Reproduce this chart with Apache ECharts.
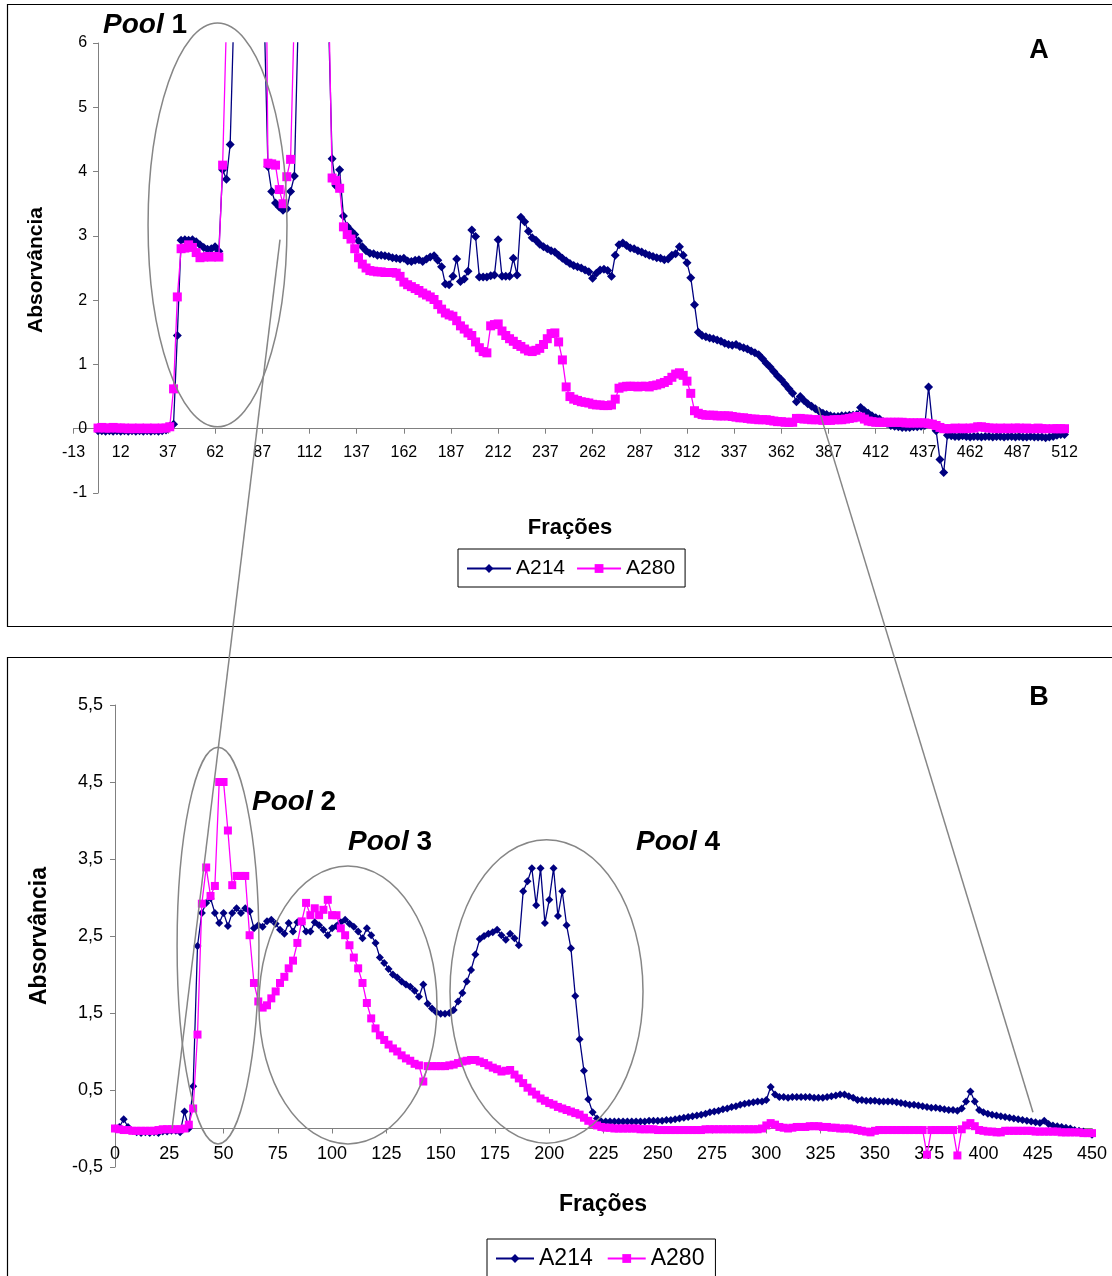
<!DOCTYPE html>
<html>
<head>
<meta charset="utf-8">
<title>Absorvância por fração</title>
<script src="https://cdn.jsdelivr.net/npm/echarts@6/dist/echarts.min.js"></script>
<style>
  html, body { margin: 0; padding: 0; background: #ffffff; }
  #chart { width: 1112px; height: 1276px; }
</style>
</head>
<body>
<div id="chart"></div>
<script>
// Fraction spacing of the readings (one reading every 2 fractions)
const stepA = 2;
const stepB = 2;

// Panel A: absorbance at 214 nm, fractions 0..512
const a214A = [
  -0.03,-0.03,-0.04,-0.03,-0.04,-0.03,-0.04,-0.03,-0.04,-0.03,
  -0.04,-0.03,-0.04,-0.03,-0.04,-0.03,-0.04,-0.03,-0.02,0.04,
  0.07,1.45,2.93,2.94,2.93,2.94,2.91,2.86,2.82,2.79,
  2.80,2.83,2.76,4.03,3.88,4.42,6.5,12,12,12,
  12,12,12,12,6.5,4.08,3.69,3.51,3.45,3.40,
  3.42,3.69,3.93,6.3,12,12,12,12,12,12,
  12,6.5,4.20,3.78,4.03,3.31,3.15,3.08,3.02,2.92,
  2.83,2.77,2.73,2.72,2.70,2.70,2.69,2.68,2.66,2.65,
  2.64,2.65,2.61,2.60,2.62,2.63,2.60,2.64,2.67,2.69,
  2.62,2.52,2.25,2.24,2.37,2.64,2.29,2.33,2.45,3.09,
  2.99,2.36,2.36,2.36,2.38,2.39,2.94,2.37,2.37,2.37,
  2.65,2.39,3.29,3.22,3.07,2.97,2.93,2.87,2.83,2.80,
  2.77,2.75,2.70,2.65,2.61,2.57,2.54,2.52,2.50,2.47,
  2.44,2.34,2.42,2.47,2.48,2.46,2.37,2.70,2.86,2.89,
  2.85,2.81,2.80,2.77,2.75,2.72,2.70,2.68,2.66,2.65,
  2.63,2.64,2.70,2.72,2.83,2.70,2.58,2.35,1.93,1.50,
  1.45,1.43,1.41,1.40,1.38,1.36,1.33,1.31,1.30,1.31,
  1.28,1.26,1.24,1.21,1.18,1.15,1.09,1.02,0.96,0.89,
  0.82,0.76,0.69,0.62,0.55,0.42,0.50,0.44,0.39,0.35,
  0.31,0.27,0.24,0.22,0.20,0.19,0.19,0.20,0.20,0.21,
  0.21,0.22,0.33,0.28,0.24,0.20,0.17,0.15,0.11,0.08,
  0.05,0.04,0.03,0.02,0.02,0.02,0.03,0.03,0.04,0.05,
  0.65,0.08,-0.03,-0.48,-0.68,-0.10,-0.11,-0.12,-0.12,-0.11,
  -0.12,-0.13,-0.12,-0.12,-0.13,-0.12,-0.12,-0.13,-0.12,-0.12,
  -0.13,-0.12,-0.12,-0.13,-0.12,-0.13,-0.13,-0.12,-0.13,-0.13,
  -0.13,-0.14,-0.13,-0.12,-0.10,-0.09,-0.09
];

// Panel A: absorbance at 280 nm, fractions 0..512
const a280A = [
  0.01,0.02,0.01,0.01,0.02,0.01,0.01,0.01,0.00,0.01,
  0.00,0.01,0.00,0.01,0.00,0.01,0.00,0.01,0.01,0.03,
  0.62,2.05,2.80,2.81,2.86,2.82,2.74,2.66,2.67,2.68,
  2.67,2.68,2.67,4.10,6.3,11,11,11,11,11,
  11,11,11,11,11,4.13,4.12,4.10,3.72,3.50,
  3.92,4.19,6.5,11,11,11,11,11,11,11,
  11,7,3.90,3.86,3.74,3.14,3.02,2.95,2.80,2.66,
  2.56,2.50,2.46,2.45,2.44,2.44,2.43,2.43,2.43,2.42,
  2.37,2.28,2.24,2.21,2.18,2.15,2.11,2.08,2.05,2.01,
  1.93,1.86,1.80,1.77,1.75,1.68,1.60,1.55,1.49,1.45,
  1.35,1.26,1.20,1.18,1.60,1.62,1.63,1.52,1.45,1.40,
  1.36,1.31,1.28,1.24,1.21,1.20,1.22,1.25,1.31,1.40,
  1.48,1.49,1.35,1.07,0.65,0.50,0.46,0.44,0.42,0.41,
  0.40,0.38,0.37,0.37,0.36,0.36,0.37,0.46,0.63,0.65,
  0.66,0.66,0.66,0.65,0.66,0.66,0.65,0.67,0.68,0.70,
  0.72,0.75,0.80,0.85,0.87,0.83,0.74,0.55,0.28,0.24,
  0.22,0.21,0.21,0.21,0.20,0.20,0.20,0.20,0.19,0.18,
  0.17,0.17,0.16,0.15,0.15,0.14,0.14,0.14,0.13,0.12,
  0.11,0.11,0.10,0.10,0.10,0.16,0.16,0.15,0.15,0.14,
  0.14,0.14,0.13,0.13,0.13,0.14,0.14,0.14,0.15,0.16,
  0.17,0.19,0.18,0.15,0.12,0.11,0.10,0.10,0.10,0.10,
  0.10,0.10,0.10,0.10,0.09,0.09,0.09,0.09,0.09,0.09,
  0.08,0.07,0.05,0.02,0.00,0.00,0.00,0.01,0.00,0.01,
  0.00,0.01,0.01,0.03,0.03,0.02,0.01,0.01,0.00,0.01,
  0.00,0.01,0.00,0.01,0.01,0.00,0.01,0.00,0.00,0.01,
  0.00,0.00,null,0.00,0.00,0.00,0.00
];

// Panel B: absorbance at 214 nm, fractions 0..450
const a214B = [
  0.00,0.02,0.12,0.02,-0.03,-0.05,-0.06,-0.05,-0.06,-0.05,
  -0.06,-0.04,-0.04,-0.03,-0.03,-0.05,0.22,0.00,0.55,2.37,
  2.80,2.93,2.99,2.80,2.67,2.80,2.63,2.80,2.86,2.80,
  2.86,2.82,2.60,2.64,2.62,2.69,2.71,2.66,2.58,2.53,
  2.67,2.56,2.68,2.68,2.56,2.56,2.68,2.64,2.58,2.51,
  2.60,2.63,2.68,2.71,2.66,2.62,2.56,2.47,2.60,2.51,
  2.41,2.22,2.15,2.07,2.00,1.96,1.91,1.87,1.84,1.79,
  1.71,1.87,1.62,1.56,1.51,1.49,1.49,1.50,1.54,1.65,
  1.76,1.91,2.06,2.26,2.46,2.50,2.53,2.55,2.58,2.51,
  2.45,2.53,2.47,2.38,3.08,3.21,3.38,2.90,3.38,2.67,
  2.97,3.38,2.76,3.08,2.64,2.34,1.72,1.16,0.75,0.38,
  0.21,0.13,0.09,0.09,0.09,0.09,0.09,0.09,0.09,0.09,
  0.09,0.09,0.09,0.10,0.10,0.10,0.10,0.11,0.11,0.12,
  0.13,0.14,0.15,0.16,0.17,0.18,0.19,0.21,0.22,0.23,
  0.25,0.26,0.28,0.29,0.31,0.32,0.33,0.34,0.35,0.35,
  0.37,0.54,0.44,0.41,0.41,0.40,0.41,0.41,0.41,0.41,
  0.41,0.40,0.40,0.40,0.41,0.42,0.43,0.44,0.44,0.42,
  0.40,0.37,0.37,0.36,0.36,0.36,0.35,0.35,0.35,0.35,
  0.34,0.33,0.32,0.31,0.31,0.30,0.29,0.28,0.27,0.27,
  0.26,0.25,0.24,0.24,0.23,0.26,0.35,0.48,0.35,0.24,
  0.21,0.19,0.18,0.17,0.16,0.15,0.14,0.13,0.12,0.11,
  0.10,0.09,0.08,0.07,0.10,0.06,0.04,0.03,0.02,0.01,
  0.00,-0.02,-0.03,-0.04,-0.06,-0.08
];

// Panel B: absorbance at 280 nm, fractions 0..450
const a280B = [
  0.00,-0.01,-0.02,-0.02,-0.03,-0.03,-0.03,-0.03,-0.03,-0.03,
  -0.02,-0.01,-0.01,-0.01,-0.01,-0.01,0.00,0.05,0.26,1.22,
  2.92,3.39,3.02,3.15,4.50,4.50,3.87,3.16,3.28,3.28,
  3.28,2.51,1.89,1.65,1.57,1.60,1.69,1.78,1.89,1.97,
  2.08,2.18,2.41,2.69,2.93,2.77,2.86,2.77,2.84,2.97,
  2.77,2.77,2.60,2.51,2.38,2.22,2.08,1.89,1.63,1.43,
  1.30,1.21,1.15,1.09,1.04,1.00,0.95,0.91,0.88,0.84,
  0.82,0.61,0.81,0.81,0.81,0.81,0.81,0.82,0.83,0.85,
  0.87,0.88,0.89,0.89,0.87,0.85,0.82,0.79,0.77,0.74,
  0.75,0.76,0.70,0.65,0.59,0.53,0.48,0.44,0.39,0.36,
  0.33,0.31,0.28,0.26,0.24,0.22,0.20,0.18,0.14,0.10,
  0.06,0.04,0.02,0.01,0.01,0.00,0.00,0.00,0.00,0.00,
  0.00,-0.01,-0.01,-0.01,-0.01,-0.02,-0.02,-0.02,-0.02,-0.02,
  -0.02,-0.02,-0.02,-0.02,-0.02,-0.02,-0.01,-0.01,-0.01,-0.01,
  -0.01,-0.01,-0.01,-0.01,-0.01,-0.01,-0.01,-0.01,-0.01,0.00,
  0.04,0.07,0.05,0.02,0.01,0.00,0.01,0.02,0.02,0.02,
  0.03,0.03,0.03,0.02,0.02,0.01,0.01,0.00,0.00,0.00,
  -0.01,-0.02,-0.03,-0.04,-0.05,-0.03,-0.02,-0.02,-0.02,-0.02,
  -0.02,-0.02,-0.02,-0.02,-0.02,-0.02,-0.02,-0.34,-0.02,-0.02,
  -0.02,-0.02,-0.02,-0.02,-0.35,-0.01,0.04,0.07,0.03,-0.02,
  -0.03,-0.04,-0.04,-0.05,-0.05,-0.03,-0.03,-0.03,-0.03,-0.03,
  -0.03,-0.03,-0.04,-0.04,-0.04,-0.04,-0.04,-0.04,-0.05,-0.05,
  -0.05,-0.05,-0.05,-0.06,-0.06,-0.06
];

// Axis ranges
const axisA = { xMin: -13, xMax: 512, xStep: 25, yMin: -1, yMax: 6, yStep: 1 };
const axisB = { xMin: 0, xMax: 450, xStep: 25, yMin: -0.5, yMax: 5.5, yStep: 1 };

// Labels
const seriesNames = ['A214', 'A280'];
const xTitle = 'Frações';
const yTitle = 'Absorvância';

const FONT = '"Liberation Sans", Arial, Helvetica, sans-serif';
const NAVY = '#000080';
const MAGENTA = '#ff00ff';
const AXIS_GRAY = '#808080';
const NOTE_GRAY = '#868686';

// Plot rectangles of the two panels
const gridA = { left: 73.5, top: 43, width: 991, height: 450 };
const gridB = { left: 115, top: 705, width: 977, height: 462 };

const toPairs = (vals, step) => vals.map((v, i) => [i * step, v]);

function lineSeries(name, vals, step, gi, symbol, color, size, z) {
  return {
    type: 'line',
    name: name,
    xAxisIndex: gi,
    yAxisIndex: gi,
    data: toPairs(vals, step),
    symbol: symbol,
    symbolSize: size,
    showSymbol: true,
    showAllSymbol: true,
    clip: true,
    z: z,
    lineStyle: { color: color, width: 1.3 },
    itemStyle: { color: color, borderWidth: 0 },
    emphasis: { disabled: true },
    animation: false
  };
}

// Axes cross at zero: shift each axis (line, ticks and labels) onto the other's zero
function zeroOffsetX(ax, g) { return -((0 - ax.yMin) / (ax.yMax - ax.yMin)) * g.height; }
function zeroOffsetY(ax, g) { return -((0 - ax.xMin) / (ax.xMax - ax.xMin)) * g.width; }

function xAxisOf(gi, ax, g, fontSize, margin) {
  return {
    type: 'value', gridIndex: gi, position: 'bottom',
    offset: zeroOffsetX(ax, g),
    min: ax.xMin, max: ax.xMax, interval: ax.xStep,
    axisLine: { show: true, onZero: false, lineStyle: { color: AXIS_GRAY, width: 1 } },
    axisTick: { show: true, length: 5, inside: false, lineStyle: { color: AXIS_GRAY } },
    axisLabel: { color: '#000', fontSize: fontSize, fontFamily: FONT, margin: margin },
    splitLine: { show: false }
  };
}

function yAxisOf(gi, ax, g, fontSize, margin, fmt) {
  return {
    type: 'value', gridIndex: gi, position: 'left',
    offset: zeroOffsetY(ax, g),
    min: ax.yMin, max: ax.yMax, interval: ax.yStep,
    axisLine: { show: true, onZero: false, lineStyle: { color: AXIS_GRAY, width: 1 } },
    axisTick: { show: true, length: 5, inside: false, lineStyle: { color: AXIS_GRAY } },
    axisLabel: { color: '#000', fontSize: fontSize, fontFamily: FONT, margin: margin, formatter: fmt },
    splitLine: { show: false }
  };
}

const commaFmt = v => (Math.round(v * 10) / 10).toFixed(1).replace('.', ',');

const chart = echarts.init(document.getElementById('chart'), null, { renderer: 'canvas' });

const option = {
  backgroundColor: '#ffffff',
  animation: false,
  textStyle: { fontFamily: FONT },
  grid: [
    Object.assign({ containLabel: false, outerBoundsMode: 'none' }, gridA),
    Object.assign({ containLabel: false, outerBoundsMode: 'none' }, gridB)
  ],
  xAxis: [ xAxisOf(0, axisA, gridA, 16, 16), xAxisOf(1, axisB, gridB, 18, 17) ],
  yAxis: [ yAxisOf(0, axisA, gridA, 16, 11), yAxisOf(1, axisB, gridB, 18, 12, commaFmt) ],
  legend: [
    {
      data: seriesNames, left: 458, top: 549, orient: 'horizontal',
      selectedMode: false, borderColor: '#000', borderWidth: 1,
      padding: [9, 10, 8, 8], itemWidth: 44, itemHeight: 11, itemGap: 11,
      textStyle: { fontSize: 21, fontFamily: FONT, color: '#000' }
    },
    {
      data: seriesNames, left: 487, top: 1239, orient: 'horizontal',
      selectedMode: false, borderColor: '#000', borderWidth: 1,
      padding: [8, 11, 20, 8], itemWidth: 38, itemHeight: 11, itemGap: 14,
      textStyle: { fontSize: 23, fontFamily: FONT, color: '#000' }
    }
  ],
  series: [
    lineSeries(seriesNames[0], a214A, stepA, 0, 'diamond', NAVY, 9, 2),
    lineSeries(seriesNames[1], a280A, stepA, 0, 'rect', MAGENTA, 9, 3),
    lineSeries(seriesNames[0], a214B, stepB, 1, 'diamond', NAVY, 8, 2),
    lineSeries(seriesNames[1], a280B, stepB, 1, 'rect', MAGENTA, 8, 3)
  ]
};

chart.setOption(option);

// Pool outlines, given as data-space bounding boxes [x1, y1, x2, y2]
const pools = [
  { grid: 0, box: [26.5, 0.03, 100.1, 6.31] },
  { grid: 1, box: [28.6, -0.20, 66.3, 4.95] },
  { grid: 1, box: [66.3, -0.20, 148.3, 3.41] },
  { grid: 1, box: [154.3, -0.19, 243.2, 3.75] }
];
// Zoom connectors between the two panels: [grid, x, y] -> [grid, x, y]
const links = [
  [[0, 96.4, 2.94], [1, 26.3, 0.0]],
  [[0, 381.4, 0.34], [1, 422.8, 0.21]]
];

const toPx = (g, x, y) => chart.convertToPixel({ gridIndex: g }, [x, y]);

const graphics = [];

// Panel frames
graphics.push({ type: 'rect', z: 1, shape: { x: 7.5, y: 4.5, width: 1130, height: 622 },
  style: { fill: 'none', stroke: '#000', lineWidth: 1.2 }, silent: true });
graphics.push({ type: 'rect', z: 1, shape: { x: 7.5, y: 657.5, width: 1130, height: 700 },
  style: { fill: 'none', stroke: '#000', lineWidth: 1.2 }, silent: true });

pools.forEach(p => {
  const a = toPx(p.grid, p.box[0], p.box[1]);
  const b = toPx(p.grid, p.box[2], p.box[3]);
  graphics.push({
    type: 'ellipse', z: 20, silent: true,
    shape: { cx: (a[0] + b[0]) / 2, cy: (a[1] + b[1]) / 2, rx: Math.abs(b[0] - a[0]) / 2, ry: Math.abs(b[1] - a[1]) / 2 },
    style: { fill: 'none', stroke: NOTE_GRAY, lineWidth: 1.5 }
  });
});

links.forEach(l => {
  const a = toPx(l[0][0], l[0][1], l[0][2]);
  const b = toPx(l[1][0], l[1][1], l[1][2]);
  graphics.push({
    type: 'line', z: 20, silent: true,
    shape: { x1: a[0], y1: a[1], x2: b[0], y2: b[1] },
    style: { stroke: NOTE_GRAY, lineWidth: 1.5 }
  });
});

function label(text, x, y, size, opts) {
  opts = opts || {};
  return {
    type: 'text', z: 30, silent: true, x: x, y: y, rotation: opts.rotation || 0,
    style: {
      text: text, fill: '#000',
      font: (opts.italic ? 'italic ' : '') + 'bold ' + size + 'px ' + FONT,
      textAlign: opts.align || 'center', textVerticalAlign: 'middle',
      align: opts.align || 'center', verticalAlign: 'middle'
    }
  };
}

function poolLabel(n, x, y) {
  return {
    type: 'text', z: 30, silent: true, x: x, y: y,
    style: {
      text: '{p|Pool}{n| ' + n + '}',
      textAlign: 'left', textVerticalAlign: 'middle', align: 'left', verticalAlign: 'middle',
      rich: {
        p: { fontStyle: 'italic', fontWeight: 'bold', fontSize: 28, fontFamily: FONT, fill: '#000', color: '#000' },
        n: { fontWeight: 'bold', fontSize: 28, fontFamily: FONT, fill: '#000', color: '#000' }
      }
    }
  };
}

// Axis titles and panel letters
graphics.push(label(xTitle, 570, 528, 22));
graphics.push(label(yTitle, 36, 270, 21, { rotation: Math.PI / 2 }));
graphics.push(label('A', 1039, 51, 27));
graphics.push(label(xTitle, 603, 1205, 23));
graphics.push(label(yTitle, 40, 936, 23, { rotation: Math.PI / 2 }));
graphics.push(label('B', 1039, 698, 27));

graphics.push(poolLabel(1, 103, 25));
graphics.push(poolLabel(2, 252, 802));
graphics.push(poolLabel(3, 348, 842));
graphics.push(poolLabel(4, 636, 842));

chart.setOption({ graphic: { elements: graphics } });
</script>
</body>
</html>
